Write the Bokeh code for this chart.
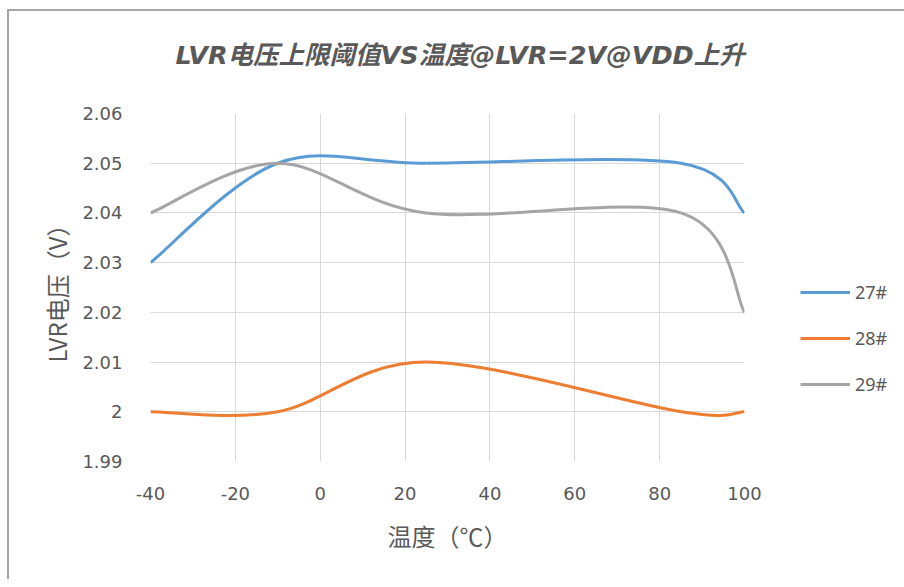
from bokeh.plotting import figure
from bokeh.models import Range1d, FixedTicker, Legend, LegendItem, Title
from bokeh.embed import file_html
from bokeh.resources import INLINE

# ---- data ----
temps = [-40, -10, 25, 85, 100]
s27 = [2.030, 2.050, 2.050, 2.050, 2.040]
s28 = [2.000, 2.000, 2.010, 2.000, 2.000]
s29 = [2.040, 2.050, 2.040, 2.040, 2.020]
series_names = ["27#", "28#", "29#"]
series_colors = ["#5B9BD5", "#ED7D31", "#A5A5A5"]
x_ticks = [-40, -20, 0, 20, 40, 60, 80, 100]
y_ticks = [1.99, 2.00, 2.01, 2.02, 2.03, 2.04, 2.05, 2.06]
y_tick_labels = ["1.99", "2", "2.01", "2.02", "2.03", "2.04", "2.05", "2.06"]
title_text = "LVR电压上限阈值VS温度@LVR=2V@VDD上升"
x_title = "温度（℃）"
y_title = "LVR电压（V）"


def smooth_segments(xs, ys):
    """Excel-like smoothed line: cubic Bezier segments through the data points."""
    n = len(xs)
    P = list(zip(xs, ys))
    seg = {k: [] for k in ["x0", "y0", "x1", "y1", "cx0", "cy0", "cx1", "cy1"]}
    for i in range(n - 1):
        p0 = P[max(i - 1, 0)]
        p1 = P[i]
        p2 = P[i + 1]
        p3 = P[min(i + 2, n - 1)]
        seg["x0"].append(p1[0]); seg["y0"].append(p1[1])
        seg["x1"].append(p2[0]); seg["y1"].append(p2[1])
        seg["cx0"].append(p1[0] + (p2[0] - p0[0]) / 6.0)
        seg["cy0"].append(p1[1] + (p2[1] - p0[1]) / 6.0)
        seg["cx1"].append(p2[0] - (p3[0] - p1[0]) / 6.0)
        seg["cy1"].append(p2[1] - (p3[1] - p1[1]) / 6.0)
    return seg


TXT = "#595959"
GRID = "#D9D9D9"

p = figure(frame_width=594, frame_height=348, output_backend="svg", toolbar_location=None,
           x_range=Range1d(-40, 100), y_range=Range1d(1.99, 2.06), title=None,
           min_border_left=141, min_border_right=146, min_border_top=102,
           min_border_bottom=118)
p.styles = {"border-top": "2px solid #A6A6A6", "border-left": "2px solid #A6A6A6",
            "margin-left": "7px", "margin-top": "9px"}
p.outline_line_color = None

# spacer panel between chart title and plot area
p.add_layout(Title(text=" ", text_font_size="20px", standoff=20), "above")
p.add_layout(Title(text=title_text, text_font="DejaVu Sans, Noto Sans CJK SC",
                   text_font_size="25.5px", text_font_style="bold italic",
                   text_color=TXT, align="left", offset=25, standoff=0), "above")

p.xaxis.ticker = FixedTicker(ticks=x_ticks)
p.yaxis.ticker = FixedTicker(ticks=y_ticks)
p.yaxis.major_label_overrides = {t: l for t, l in zip(y_ticks, y_tick_labels)}
p.xaxis.major_label_overrides = {t: str(t) for t in x_ticks}

for ax in (p.xaxis, p.yaxis):
    ax.axis_line_color = None
    ax.major_tick_line_color = None
    ax.minor_tick_line_color = None
    ax.major_label_text_font = "DejaVu Sans"
    ax.major_label_text_font_size = "18px"
    ax.major_label_text_color = TXT
    ax.axis_label_text_font = "Noto Sans CJK SC"
    ax.axis_label_text_font_size = "24px"
    ax.axis_label_text_font_style = "normal"
    ax.axis_label_text_color = TXT

p.xaxis.major_label_standoff = 19
p.yaxis.major_label_standoff = 22
p.xaxis.axis_label = x_title
p.yaxis.axis_label = y_title
p.xaxis.axis_label_standoff = 15
p.yaxis.axis_label_standoff = 5

p.xgrid.grid_line_color = GRID
p.ygrid.grid_line_color = GRID
p.xgrid.grid_line_width = 1
p.ygrid.grid_line_width = 1

items = []
for name, ys, col in zip(series_names, [s27, s28, s29], series_colors):
    seg = smooth_segments(temps, ys)
    r = p.bezier(x0=seg["x0"], y0=seg["y0"], x1=seg["x1"], y1=seg["y1"],
                 cx0=seg["cx0"], cy0=seg["cy0"], cx1=seg["cx1"], cy1=seg["cy1"],
                 line_color=col, line_width=3)
    items.append(LegendItem(label=name, renderers=[r]))

legend = Legend(items=items, location=(56, 65), padding=0, margin=0,
                border_line_color=None, background_fill_alpha=0,
                glyph_width=50, glyph_height=24, label_height=24, spacing=22,
                label_standoff=5, label_text_font="Noto Sans",
                label_text_font_size="18px", label_text_color=TXT)
p.add_layout(legend, "right")

open("out.html", "w").write(file_html(p, INLINE))
